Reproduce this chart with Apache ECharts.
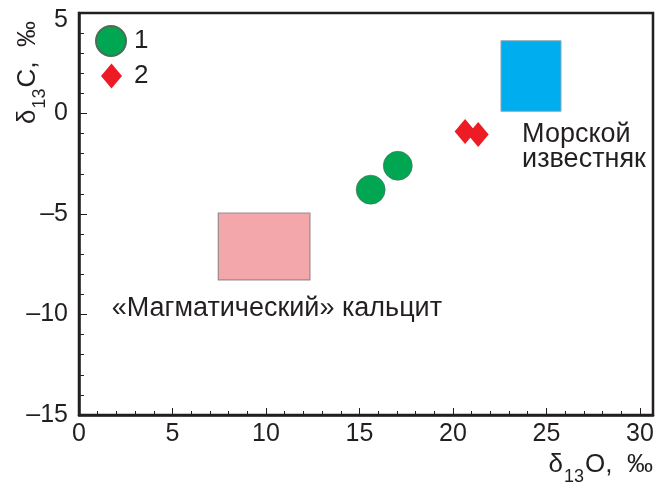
<!DOCTYPE html>
<html>
<head>
<meta charset="utf-8">
<script src="https://cdn.jsdelivr.net/npm/echarts@6/dist/echarts.min.js"></script>
<style>
  html, body { margin: 0; padding: 0; background: #fff; }
  #chart { width: 661px; height: 486px; }
</style>
</head>
<body>
<div id="chart"></div>
<script>
// Isotope data: δ13O (x) vs δ13C (y), ‰
const seriesNames = ['1', '2'];
const group1 = [[15.6, -3.79], [17.05, -2.6]];      // green circles
const group2 = [[20.65, -0.9], [21.35, -1.04]];     // red diamonds

// Reference fields [xMin, xMax, yMin, yMax]
const marineField = [22.57, 25.78, 0.11, 3.62];
const magmaticField = [7.45, 12.35, -8.28, -4.95];

// Field captions, anchored at their top-left corner [x, y]
const marineLabel = 'Морской\nизвестняк';
const marineLabelPos = [23.7, -0.45];
const magmaticLabel = '«Магматический» кальцит';
const magmaticLabelPos = [1.75, -9.1];

// Axis tick labels
const xTicks = [0, 5, 10, 15, 20, 25, 30];
const yTicks = [-15, -10, -5, 0, 5];

const ink = '#231F20';
const font = '"Liberation Sans", Arial, sans-serif';

const nameRich = {
  a: { fontSize: 26, color: ink, fontFamily: font, verticalAlign: 'bottom', lineHeight: 28 },
  s: { fontSize: 18, color: ink, fontFamily: font, verticalAlign: 'bottom', lineHeight: 28, padding: [0, 1, -8, 1] }
};

const chart = echarts.init(document.getElementById('chart'));

chart.setOption({
  backgroundColor: '#fff',
  animation: false,
  textStyle: { fontFamily: font, color: ink },
  grid: {
    left: 79, right: 8, top: 13, bottom: 66,
    show: true, borderColor: ink, borderWidth: 2.5, backgroundColor: 'transparent'
  },
  legend: [
    {
      data: [seriesNames[0]], left: 95, top: 25, orient: 'vertical', padding: 0,
      itemWidth: 30, itemHeight: 30,
      textStyle: { fontSize: 26, color: ink, fontFamily: font, padding: [0, 0, 0, 3] }
    },
    {
      data: [seriesNames[1]], left: 101, top: 63, orient: 'vertical', padding: 0,
      itemWidth: 21, itemHeight: 25,
      textStyle: { fontSize: 26, color: ink, fontFamily: font, padding: [0, 0, 0, 7] }
    }
  ],
  xAxis: {
    type: 'value', min: 0, max: 30.7, interval: 5,
    name: '{a|δ}{s|13}{a|O,  ‰}',
    nameLocation: 'end', nameGap: 0,
    nameTextStyle: {
      align: 'right', verticalAlign: 'top', padding: [35, 0, 0, 0],
      rich: nameRich
    },
    axisLine: { onZero: false, lineStyle: { color: ink, width: 2.5 } },
    axisTick: { inside: true, length: 7, lineStyle: { color: ink, width: 1 } },
    minorTick: { show: true, splitNumber: 5, length: 4, lineStyle: { color: ink, width: 1 } },
    splitLine: { show: false },
    axisLabel: {
      fontSize: 25, color: ink, fontFamily: font, margin: 7,
      formatter: v => (xTicks.includes(v) ? String(v) : '')
    }
  },
  yAxis: {
    type: 'value', min: -15, max: 5, interval: 5,
    name: '{a|δ}{s|13}{a|C,  ‰}',
    nameLocation: 'end', nameRotate: 90, nameGap: 0,
    nameTextStyle: {
      align: 'right', verticalAlign: 'bottom', padding: [0, 8, 38, 0],
      rich: nameRich
    },
    axisLine: { onZero: false, lineStyle: { color: ink, width: 2.5 } },
    axisTick: { inside: true, length: 8, lineStyle: { color: ink, width: 1 } },
    minorTick: { show: true, splitNumber: 5, length: 5, lineStyle: { color: ink, width: 1 } },
    splitLine: { show: false },
    axisLabel: {
      fontSize: 25, color: ink, fontFamily: font, margin: 11,
      formatter: v => {
        if (!yTicks.includes(v)) return '';
        const t = String(v).replace('-', '–');
        return v === yTicks[yTicks.length - 1] ? '{top|' + t + '}' : t;
      },
      rich: { top: { fontSize: 25, color: ink, fontFamily: font, padding: [14, 0, 0, 0] } }
    }
  },
  series: [
    {
      name: seriesNames[0], type: 'scatter', data: group1,
      symbol: 'circle', symbolSize: 29, z: 5,
      itemStyle: { color: '#00A651', borderColor: '#4d6b55', borderWidth: 0.6, opacity: 1 }
    },
    {
      name: seriesNames[1], type: 'scatter', data: group2,
      symbol: 'diamond', symbolSize: [21, 25], z: 5,
      itemStyle: { color: '#ED1C24', opacity: 1 }
    },
    {
      name: 'fields', type: 'scatter', data: [], silent: true,
      markArea: {
        silent: true,
        data: [
          [
            { xAxis: marineField[0], yAxis: marineField[3], itemStyle: { color: '#00AEEF', borderColor: '#8fa7b3', borderWidth: 1, opacity: 1 } },
            { xAxis: marineField[1], yAxis: marineField[2] }
          ],
          [
            { xAxis: magmaticField[0], yAxis: magmaticField[3], itemStyle: { color: '#F4A7AB', borderColor: '#9a8a8b', borderWidth: 1.2, opacity: 1 } },
            { xAxis: magmaticField[1], yAxis: magmaticField[2] }
          ]
        ]
      }
    },
    {
      name: 'captions', type: 'scatter', symbolSize: 0, silent: true,
      itemStyle: { opacity: 1 },
      data: [
        { value: marineLabelPos, label: { formatter: marineLabel } },
        { value: magmaticLabelPos, label: { formatter: magmaticLabel } }
      ],
      label: {
        show: true, position: [0, 0], align: 'left', verticalAlign: 'top',
        fontSize: 27, lineHeight: 25, color: ink, fontFamily: font
      }
    }
  ]
});
</script>
</body>
</html>
